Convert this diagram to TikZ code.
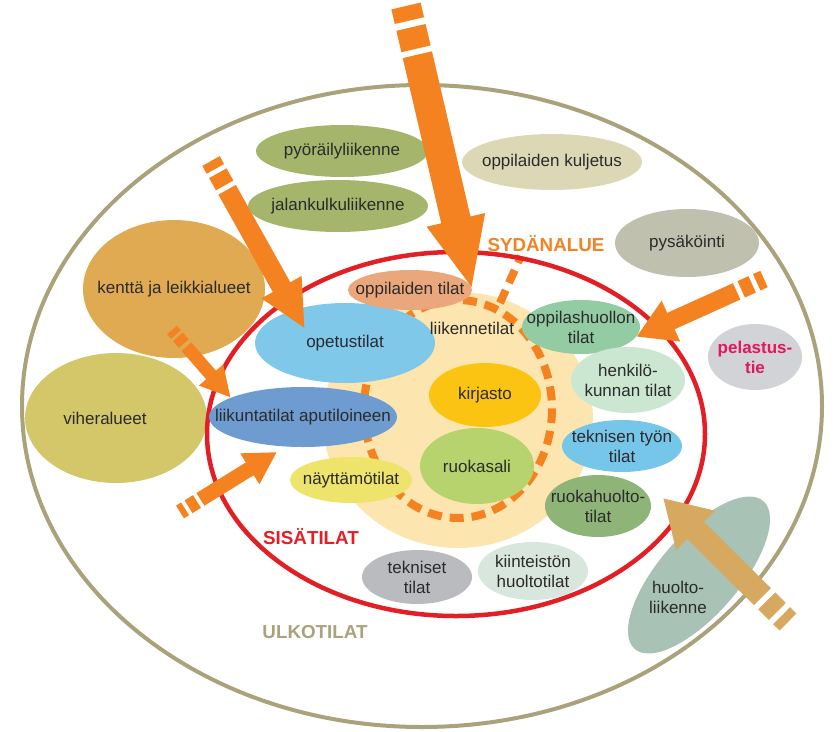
\documentclass[tikz,border=0pt]{standalone}
\usepackage{fontspec}
\setmainfont{Liberation Sans}
\usetikzlibrary{shapes.geometric,arrows.meta}

\definecolor{ink}{HTML}{2B2B2B}
\definecolor{ulko}{HTML}{A9A27B}
\definecolor{sisa}{HTML}{E31F26}
\definecolor{oranssi}{HTML}{F58220}
\definecolor{ruskea}{HTML}{D7A960}
\definecolor{ydin}{HTML}{FCE5AE}
\definecolor{vihrea}{HTML}{A5B56B}
\definecolor{kuljetus}{HTML}{DCD8B6}
\definecolor{parkki}{HTML}{BFC0AE}
\definecolor{kentta}{HTML}{E0AA52}
\definecolor{viher}{HTML}{D4C76A}
\definecolor{opetus}{HTML}{7FC8EA}
\definecolor{liikunta}{HTML}{6E9BD0}
\definecolor{nayttamo}{HTML}{EEE36B}
\definecolor{opptilat}{HTML}{EBA77C}
\definecolor{kirjasto}{HTML}{FBC412}
\definecolor{ruokasali}{HTML}{B6D36D}
\definecolor{huoltola}{HTML}{93CBA3}
\definecolor{henkilo}{HTML}{CCE7D1}
\definecolor{tekntyo}{HTML}{76C6EA}
\definecolor{ruokahuolto}{HTML}{8FB477}
\definecolor{tekniset}{HTML}{BABBBE}
\definecolor{kiinteisto}{HTML}{D8E6DD}
\definecolor{pelastus}{HTML}{D2D3D6}
\definecolor{pelastusteksti}{HTML}{E2185C}
\definecolor{huoltoliik}{HTML}{A8C2B5}

\begin{document}
\begin{tikzpicture}[x=1pt,y=-1pt,
  zone/.style n args={3}{ellipse,inner sep=-90pt,align=center,text=ink,
    fill=#1,minimum width=#2,minimum height=#3,
    font=\fontsize{17}{20}\selectfont},
  area/.style={text=#1,font=\bfseries\fontsize{18.8}{21}\selectfont},
  ring/.style={draw=oranssi,line width=8pt,dash pattern=on 14pt off 8pt},
  feed/.style args={#1/#2/#3}{line width=#1,-{Triangle[length=#2,width=#3]}},
  tailbars/.style n args={4}{dash pattern=on #1 off #2 on #3 off #4 on 2000pt}]
\useasboundingbox (0,0) rectangle (835,731);

\draw[ulko,line width=4pt] (422,406) ellipse [x radius=400,y radius=321];

\node[zone={vihrea}{172pt}{52pt}] (pyoraily) at (342,151) {py\"or\"ailyliikenne};
\node[zone={vihrea}{180pt}{52pt}] (jalankulku) at (338,206) {jalankulkuliikenne};
\node[zone={kuljetus}{180pt}{56pt}] (kuljetus) at (552,162) {oppilaiden kuljetus};
\node[zone={parkki}{144pt}{68pt}] (pysakointi) at (687,243) {pys\"ak\"ointi};
\node[zone={kentta}{182pt}{138pt}] (kentta) at (174,289) {kentt\"a ja leikkialueet};
\node[zone={viher}{182pt}{130pt}] (viher) at (116,418) {viheralueet\hspace*{22pt}};
\node[zone={pelastus}{94pt}{66pt},text=pelastusteksti,
  font=\bfseries\fontsize{17}{20}\selectfont] (pelastus) at (755,357) {pelastus-\\tie};
\node[zone={huoltoliik}{196pt}{80pt},rotate=49] (huolto) at (699,575) {};
\node[text=ink,align=center,font=\fontsize{17}{20}\selectfont] (huoltotxt) at (678,597) {huolto-\\liikenne};

\fill[ydin] (458,420) ellipse [x radius=135,y radius=128];
\draw[ring] (458,409) ellipse [x radius=94,y radius=109];
\coordinate (renkaasta) at (500,303);
\coordinate (sydanpaa) at (521,256);
\draw[ring] (renkaasta) -- (sydanpaa);

\draw[sisa,line width=4.5pt] (456,434) ellipse [x radius=249,y radius=182];

\node[zone={opetus}{180pt}{80pt}] (opetus) at (345,343) {opetustilat};
\node[zone={liikunta}{188pt}{60pt}] (liikunta) at (303,417) {liikuntatilat aputiloineen};
\node[zone={nayttamo}{122pt}{46pt}] (nayttamo) at (351,480) {n\"aytt\"am\"otilat};
\node[zone={opptilat}{124pt}{40pt}] (opptilat) at (410,290) {oppilaiden tilat};
\node[text=ink,font=\fontsize{17}{20}\selectfont] (liikenne) at (472,328) {liikennetilat};
\node[zone={kirjasto}{112pt}{64pt}] (kirjasto) at (485,395) {kirjasto};
\node[zone={ruokasali}{114pt}{76pt}] (ruokasali) at (477,466) {ruokasali};
\node[zone={huoltola}{118pt}{54pt}] (oppilashuolto) at (581,327) {oppilashuollon\\tilat};
\node[zone={henkilo}{114pt}{66pt}] (henkilo) at (628,380) {henkil\"o-\\kunnan tilat};
\node[zone={tekntyo}{120pt}{52pt}] (tekntyo) at (622,446) {teknisen ty\"on\\tilat};
\node[zone={ruokahuolto}{106pt}{62pt}] (ruokahuolto) at (598,506) {ruokahuolto-\\tilat};
\node[zone={tekniset}{110pt}{54pt}] (tekniset) at (417,577) {tekniset\\tilat};
\node[zone={kiinteisto}{110pt}{58pt}] (kiinteisto) at (533,571) {kiinteist\"on\\huoltotilat};

\node[area=oranssi] (sydan) at (546,244) {SYD\"ANALUE};
\node[area=sisa] (sisatilat) at (311,537) {SIS\"ATILAT};
\node[area=ulko] (ulkotilat) at (315,632) {ULKOTILAT};

\coordinate (ylhaalta) at (406,6);
\coordinate (vasylta) at (211,161);
\coordinate (kentalta) at (172,330);
\coordinate (vasalta) at (180,512);
\coordinate (oikealta) at (764,279);
\coordinate (huoltotie) at (788,622);
\coordinate (opetuskarki) at (305,329);
\coordinate (liikuntakarki) at (277,452);
\coordinate (huoltokarki) at (663,498);

\draw[oranssi,feed=30pt/72pt/54pt,tailbars={15pt}{7pt}{22pt}{6pt}] (ylhaalta) -- (opptilat.east);
\draw[oranssi,feed=20pt/48pt/42pt,tailbars={9pt}{5pt}{14pt}{5pt}] (vasylta) -- (opetuskarki);
\draw[oranssi,feed=13pt/30pt/30pt,tailbars={6pt}{3pt}{9pt}{4pt}] (kentalta) -- (liikunta.165);
\draw[oranssi,feed=15pt/32pt/34pt,tailbars={6pt}{4pt}{10pt}{4pt}] (vasalta) -- (liikuntakarki);
\draw[oranssi,feed=18pt/38pt/42pt,tailbars={8pt}{5pt}{12pt}{5pt}] (oikealta) -- (oppilashuolto.-10);
\draw[ruskea,feed=24pt/46pt/52pt,tailbars={9pt}{6pt}{15pt}{6pt}] (huoltotie) -- (huoltokarki);
\end{tikzpicture}
\end{document}
